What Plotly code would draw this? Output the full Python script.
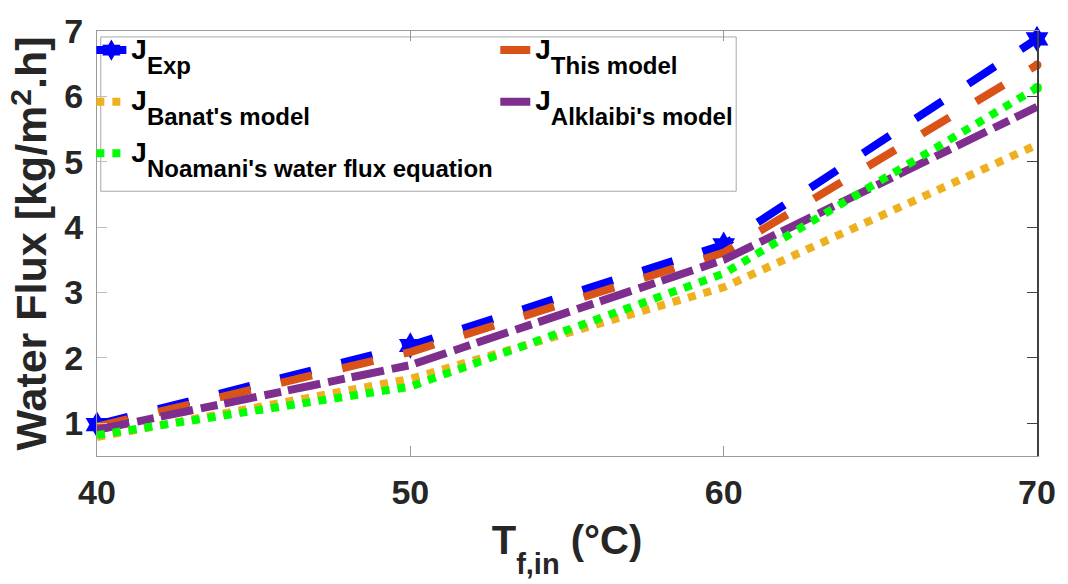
import plotly.graph_objects as go

T_f_in = [40, 50, 60, 70]
J_exp = [0.98, 2.19, 3.73, 6.88]
J_this_model = [0.95, 2.09, 3.61, 6.48]
J_banat = [0.79, 1.68, 3.08, 5.26]
J_alklaibi = [0.9, 1.89, 3.5, 5.84]
J_noamani = [0.82, 1.56, 3.29, 6.13]

x_ticks = [40, 50, 60, 70]
y_ticks = [1, 2, 3, 4, 5, 6, 7]

FONT = "Liberation Sans, Arial, sans-serif"
TXT = "#262626"


def lbl(sub):
    return ('<span style="font-size:28px">J</span>'
            '<span style="font-size:24px;baseline-shift:-15px">' + sub + '</span>')


fig = go.Figure()

fig.add_trace(go.Scatter(
    x=T_f_in, y=J_exp, name=lbl("Exp"), mode="lines+markers",
    line=dict(color="#0000FF", width=8, dash="32px,31px"),
    marker=dict(symbol="hexagram", size=20, color="#0000FF"),
    cliponaxis=False, legend="legend", legendgroup="a"))
fig.add_trace(go.Scatter(
    x=T_f_in, y=J_this_model, name=lbl("This model"), mode="lines",
    line=dict(color="#D95319", width=8, dash="32px,31px"),
    legend="legend2", legendgroup="b"))
fig.add_trace(go.Scatter(
    x=T_f_in, y=J_banat, name=lbl("Banat's model"), mode="lines",
    line=dict(color="#EDB120", width=8, dash="8px,8px"),
    legend="legend", legendgroup="c"))
fig.add_trace(go.Scatter(
    x=T_f_in, y=J_alklaibi, name=lbl("Alklaibi's model"), mode="lines",
    line=dict(color="#7E2F8E", width=8, dash="33px,8px,17px,7px"),
    legend="legend2", legendgroup="d"))
fig.add_trace(go.Scatter(
    x=T_f_in, y=J_noamani, name=lbl("Noamani's water flux equation"), mode="lines",
    line=dict(color="#00FF00", width=8, dash="8px,8px"),
    legend="legend", legendgroup="e"))

# spacer entries so the shifted subscripts of the last rows are not clipped
for lg in ("legend", "legend2"):
    fig.add_trace(go.Scatter(
        x=[None], y=[None], name=" ", mode="lines",
        line=dict(color="rgba(0,0,0,0)", width=0),
        legend=lg, legendgroup="z" + lg, hoverinfo="skip"))

# end dots
fig.add_trace(go.Scatter(x=[T_f_in[-1]], y=[J_this_model[-1]], mode="markers",
                         marker=dict(color="#D95319", size=9), showlegend=False,
                         cliponaxis=False))
fig.add_trace(go.Scatter(x=[T_f_in[-1]], y=[J_noamani[-1]], mode="markers",
                         marker=dict(color="#00FF00", size=10), showlegend=False,
                         cliponaxis=False))

# right axis (dark) overlay
fig.add_trace(go.Scatter(x=[T_f_in[0]], y=[J_exp[0]], yaxis="y2", mode="markers",
                         marker=dict(opacity=0), showlegend=False, hoverinfo="skip"))

legend_font = dict(family=FONT, size=22, color="#000000", weight="bold")

fig.update_layout(
    width=1068, height=584,
    margin=dict(l=97, r=25, t=18, b=128),
    paper_bgcolor="white", plot_bgcolor="white",
    font=dict(family=FONT, color=TXT),
    xaxis=dict(
        range=[40, 70], tickvals=x_ticks, ticks="inside", ticklen=10,
        tickcolor="#9a9a9a", tickwidth=1,
        showline=True, linecolor="#9a9a9a", linewidth=1, mirror="ticks",
        showgrid=False, zeroline=False,
        tickfont=dict(family=FONT, size=34, color=TXT, weight="bold"),
        ticklabelstandoff=6, ticklabeloverflow="allow",
        title=dict(
            text='T<span style="font-size:29px;baseline-shift:-20px">f,in</span> (°C)',
            font=dict(family=FONT, size=40, color=TXT, weight="bold"),
            standoff=16),
    ),
    yaxis=dict(
        range=[0.5, 7], tickvals=y_ticks, ticks="inside", ticklen=10,
        tickcolor="#bdbdbd", tickwidth=1,
        showline=True, linecolor="#9a9a9a", linewidth=1,
        showgrid=False, zeroline=False,
        tickfont=dict(family=FONT, size=34, color=TXT, weight="bold"),
        ticklabelstandoff=6, ticklabeloverflow="allow",
        title=dict(
            text='Water Flux [kg/m<span style="font-size:30px;baseline-shift:15px">2</span>.h]',
            font=dict(family=FONT, size=43, color=TXT, weight="bold"),
            standoff=4),
    ),
    yaxis2=dict(
        range=[0.5, 7], tickvals=y_ticks, overlaying="y", side="right",
        ticks="inside", ticklen=10, tickcolor="#404040", tickwidth=1,
        showline=True, linecolor="#404040", linewidth=1.5,
        showticklabels=False, showgrid=False, zeroline=False,
    ),
    legend=dict(
        x=-0.006, y=1.004, xanchor="left", yanchor="top",
        bgcolor="rgba(0,0,0,0)", borderwidth=0,
        font=legend_font, traceorder="grouped", tracegroupgap=20,
        itemwidth=30, valign="top",
    ),
    legend2=dict(
        x=0.4237, y=1.004, xanchor="left", yanchor="top",
        bgcolor="rgba(0,0,0,0)", borderwidth=0,
        font=legend_font, traceorder="grouped", tracegroupgap=20,
        itemwidth=30, valign="top",
    ),
    shapes=[dict(type="rect", xref="paper", yref="paper",
                 x0=0.004, x1=0.68, y0=0.623, y1=0.986,
                 line=dict(color="#a8a8a8", width=1), fillcolor="white",
                 layer="below")],
    showlegend=True,
)

fig.write_html("out.html")
